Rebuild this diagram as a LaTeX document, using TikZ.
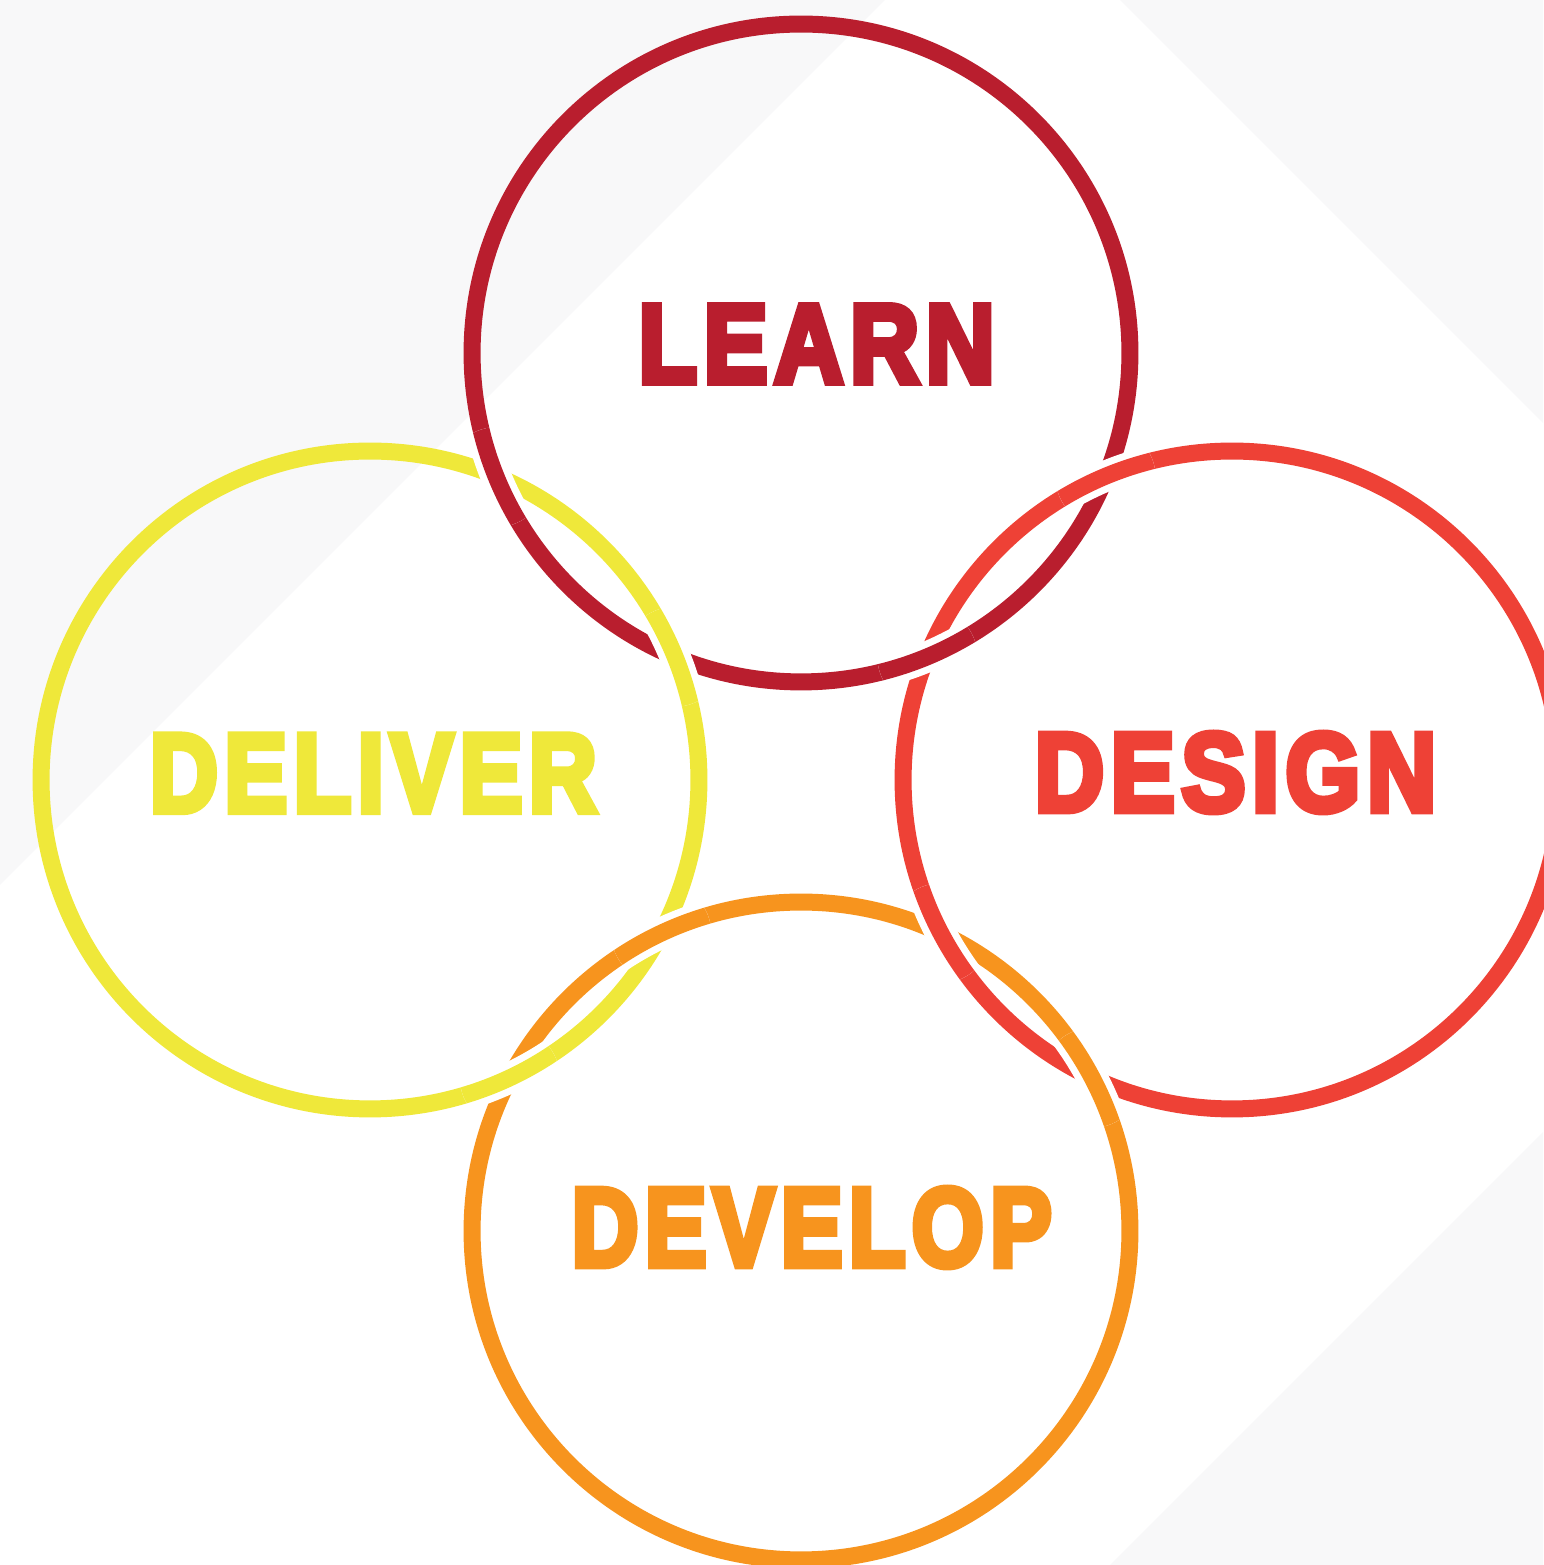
\documentclass[tikz,border=0pt]{standalone}
\usepackage{fontspec}
\setmainfont{Liberation Sans}
\newfontfamily\lblfont{Liberation Sans}[BoldFeatures={FakeBold=6.5,LetterSpace=7}]
\usepackage{graphicx}
\definecolor{cLearn}{RGB}{185,30,46}
\definecolor{cDesign}{RGB}{238,65,54}
\definecolor{cDevelop}{RGB}{247,148,30}
\definecolor{cDeliver}{RGB}{239,232,58}
\definecolor{bgGray}{RGB}{248,248,249}
\begin{document}
\begin{tikzpicture}[x=0.02cm,y=0.02cm,
  ring/.style={line width=0.34cm},
  halo/.style={line width=0.62cm, draw=white},
  lbl/.style={inner sep=0pt, font=\lblfont\bfseries\fontsize{63.3pt}{63.3pt}\selectfont}]
\useasboundingbox (0,0) rectangle (1543,1565);
\fill[white] (0,0) rectangle (1543,1565);
% background facets
\fill[bgGray] (0,1565) -- (885,1565) -- (0,680) -- cycle;
\fill[bgGray] (1120,1565) -- (1543,1565) -- (1543,1142) -- cycle;
\fill[bgGray] (1543,433) -- (1543,0) -- (1110,0) -- cycle;
% centres
\coordinate (cL) at (801,1212);
\coordinate (cDl) at (370,785);
\coordinate (cDs) at (1232,785);
\coordinate (cDv) at (801,334);
% rings
\draw[ring, cLearn] (cL) circle[radius=6.58cm];
\draw[ring, cDeliver] (cDl) circle[radius=6.58cm];
\draw[ring, cDesign] (cDs) circle[radius=6.58cm];
\draw[ring, cDevelop] (cDv) circle[radius=6.58cm];
% crossings
\coordinate (x1) at (496.4,1087.8);
\coordinate (x2) at (674.6,908.2);
\coordinate (x3) at (1105.6,1087.8);
\coordinate (x4) at (927.4,908.2);
\coordinate (x5) at (661.2,631.8);
\coordinate (x6) at (509.8,487.2);
\coordinate (x7) at (940.8,631.8);
\coordinate (x8) at (1092.2,487.2);
\foreach \p/\c/\col in {x1/cL/cLearn, x2/cDl/cDeliver, x3/cDs/cDesign, x4/cL/cLearn,
                        x5/cDv/cDevelop, x6/cDl/cDeliver, x7/cDs/cDesign, x8/cDv/cDevelop}{
  \begin{scope}
    \clip (\p) circle[radius=1cm];
    \draw[halo] (\c) circle[radius=6.58cm];
    \draw[ring, \col] (\c) circle[radius=6.58cm];
  \end{scope}
}
% labels
\node[lbl, text=cLearn] (tLearn) at (816.7,1221) {\scalebox{0.86}[1]{LEARN}};
\node[lbl, text=cDeliver] (tDeliver) at (373.4,791.7) {\scalebox{0.845}[1]{DELIVER}};
\node[lbl, text=cDesign] (tDesign) at (1235.5,792.5) {\scalebox{0.863}[1]{DESIGN}};
\node[lbl, text=cDevelop] (tDevelop) at (811.7,337.5) {\scalebox{0.83}[1]{DEVELOP}};
\end{tikzpicture}
\end{document}
